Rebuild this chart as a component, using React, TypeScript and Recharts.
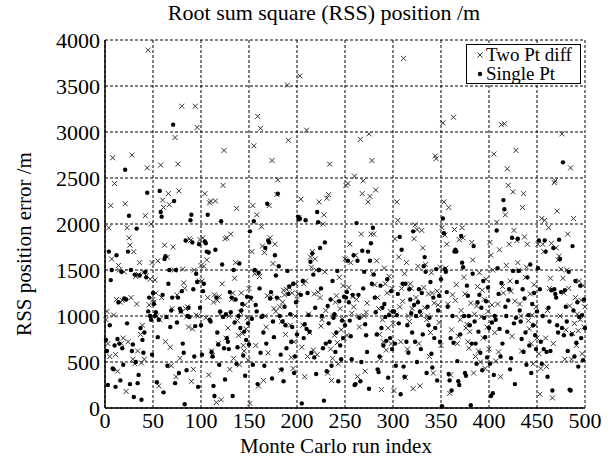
import { ScatterChart, Scatter, XAxis, YAxis, CartesianGrid, Legend, Label } from "recharts";

const FONT = '"Liberation Serif", "Times New Roman", serif';

const X_TICKS = [0, 50, 100, 150, 200, 250, 300, 350, 400, 450, 500];
const Y_TICKS = [0, 500, 1000, 1500, 2000, 2500, 3000, 3500, 4000];

// RSS position error per Monte Carlo run (runs 1..500)
const twoPtDiff = [
  960, 1050, 700, 1960, 560, 2200, 1620, 2720, 1010, 2440,
  580, 1180, 400, 1550, 1500, 1150, 700, 1170, 760, 1480,
  2220, 180, 1960, 720, 1850, 1770, 1200, 2750, 530, 1700,
  480, 1430, 1130, 620, 1450, 1580, 800, 490, 900, 1470,
  530, 2090, 1440, 2610, 3890, 1120, 1400, 2000, 1580, 1180,
  1150, 1390, 1250, 1000, 1600, 240, 960, 2640, 1200, 2260,
  2180, 1770, 720, 990, 1640, 2330, 2210, 660, 460, 1080,
  1750, 1500, 2940, 340, 1230, 2650, 2360, 540, 1050, 3280,
  1510, 1360, 1300, 1080, 990, 1100, 880, 1840, 1820, 290,
  860, 420, 1500, 3280, 1010, 3050, 1000, 1380, 1830, 1550,
  1380, 1850, 1540, 2330, 980, 1610, 1200, 360, 2230, 2250,
  620, 570, 1150, 1230, 2250, 60, 1170, 700, 1210, 1020,
  90, 1350, 2420, 2800, 1840, 760, 1850, 870, 1000, 420,
  1890, 1180, 1250, 540, 1410, 1580, 2170, 950, 790, 470,
  1040, 1250, 810, 680, 620, 1120, 860, 980, 520, 1300,
  50, 1180, 1700, 2200, 2850, 1460, 680, 2100, 3170, 240,
  1430, 3040, 1970, 1760, 300, 1690, 1000, 880, 1220, 600,
  2200, 1850, 1210, 2690, 1570, 1080, 1780, 1050, 2320, 2480,
  1190, 1100, 410, 940, 1150, 1280, 1230, 800, 1290, 3510,
  2910, 1310, 900, 550, 1250, 430, 720, 1000, 1350, 1180,
  1240, 2070, 3610, 2270, 660, 900, 1350, 340, 1380, 3020,
  560, 1020, 820, 1640, 1530, 1700, 630, 1240, 1620, 1500,
  580, 1260, 2240, 1200, 890, 960, 2000, 2100, 1480, 1060,
  2280, 380, 2320, 2650, 640, 300, 540, 1000, 790, 1150,
  1220, 710, 480, 1420, 1080, 850, 970, 1330, 760, 1620,
  2420, 790, 2440, 1310, 1780, 1580, 1030, 1210, 1100, 2520,
  1660, 1180, 340, 1000, 880, 2920, 1890, 2330, 2470, 1000,
  400, 1040, 1140, 2240, 2980, 2300, 1890, 2690, 1460, 1890,
  1340, 2370, 1600, 1200, 1080, 800, 540, 200, 960, 720,
  1520, 1350, 630, 1250, 870, 1430, 1050, 700, 1300, 920,
  190, 1840, 1010, 2240, 2040, 1640, 1100, 720, 1300, 1160,
  3800, 1460, 330, 1580, 640, 1000, 940, 1350, 1300, 1080,
  210, 1840, 1990, 1200, 1940, 1540, 700, 240, 1010, 1930,
  1740, 1310, 1090, 1560, 960, 1000, 1240, 560, 820, 1470,
  1250, 380, 1140, 2740, 2710, 1270, 1120, 930, 1530, 680,
  1960, 3100, 2240, 1880, 1520, 1780, 1130, 2180, 160, 360,
  850, 1230, 3160, 1940, 1170, 1340, 700, 780, 1830, 960,
  1060, 1960, 1850, 1420, 1240, 870, 910, 720, 650, 830,
  1140, 1800, 1610, 380, 1020, 560, 1110, 1320, 620, 1470,
  500, 990, 1280, 760, 1180, 430, 1400, 880, 1050, 640,
  1800, 1660, 1120, 1500, 2760, 820, 510, 2020, 1130, 610,
  1720, 340, 3080, 1320, 1250, 3090, 2100, 1550, 2600, 2420,
  1780, 1380, 1270, 780, 2350, 1930, 1160, 2800, 1820, 1580,
  1500, 1130, 1000, 620, 2180, 2330, 1860, 1420, 1530, 1780,
  950, 860, 1240, 700, 1010, 480, 1340, 900, 1100, 760,
  1780, 590, 150, 430, 2060, 1780, 1700, 2040, 760, 450,
  1060, 1960, 1300, 1410, 1790, 110, 700, 2450, 2470, 1740,
  2140, 1610, 1650, 1000, 1510, 2980, 1410, 1250, 530, 850,
  1500, 1890, 1300, 1110, 2610, 530, 810, 2060, 920, 1200,
  680, 1020, 840, 1380, 960, 1170, 590, 1330, 880, 1100,
];

const singlePt = [
  740, 620, 250, 1700, 900, 1390, 1500, 430, 420, 680,
  230, 1660, 750, 1150, 700, 300, 1480, 650, 470, 1190,
  2590, 1180, 920, 1700, 2090, 260, 1500, 620, 690, 120,
  1450, 500, 1950, 270, 360, 1440, 870, 90, 740, 600,
  820, 1480, 1420, 2340, 1050, 1200, 1000, 960, 580, 1250,
  1130, 1000, 1040, 280, 770, 960, 2360, 2130, 2080, 1230,
  170, 1620, 1650, 990, 460, 1350, 1500, 880, 1060, 1200,
  3080, 2250, 270, 1500, 930, 1200, 380, 1080, 1050, 1270,
  700, 600, 40, 1820, 410, 1000, 1090, 990, 2040, 2100,
  1800, 1290, 560, 890, 1460, 1370, 230, 1780, 1090, 900,
  580, 1270, 1350, 1810, 1790, 1700, 2100, 1690, 960, 940,
  610, 560, 240, 130, 1720, 1200, 820, 690, 470, 1050,
  2030, 1560, 990, 650, 310, 1020, 760, 720, 640, 1260,
  1040, 1200, 130, 1500, 930, 1180, 480, 660, 1000, 1570,
  870, 1060, 1130, 570, 830, 350, 740, 1210, 920, 690,
  1920, 1200, 970, 470, 2030, 1500, 1120, 1050, 260, 1470,
  1300, 600, 990, 1000, 820, 460, 1740, 700, 2220, 1820,
  1800, 1190, 1260, 320, 940, 770, 1660, 1440, 1200, 2330,
  1540, 1000, 580, 420, 940, 290, 1100, 900, 650, 1490,
  1240, 1320, 1020, 720, 880, 1350, 380, 560, 1150, 800,
  2080, 2050, 2060, 1230, 50, 1380, 760, 910, 2040, 860,
  1250, 1010, 830, 1590, 600, 1680, 1450, 550, 1090, 370,
  2130, 2020, 1500, 1740, 1300, 1000, 650, 80, 1800, 700,
  400, 1110, 920, 720, 1180, 460, 1380, 980, 1020, 610,
  820, 1490, 290, 1160, 680, 530, 950, 760, 1210, 900,
  1200, 1260, 1600, 1150, 950, 780, 530, 1230, 1660, 250,
  260, 2010, 1600, 1230, 980, 290, 500, 1710, 1300, 1480,
  910, 790, 610, 1700, 210, 1600, 1790, 1350, 1960, 1450,
  1200, 1040, 800, 420, 390, 560, 1330, 870, 1090, 680,
  1130, 990, 730, 1400, 330, 1010, 760, 1270, 640, 1050,
  1050, 700, 460, 1010, 1240, 920, 1860, 150, 1720, 1350,
  450, 340, 1350, 720, 900, 600, 1290, 1180, 1030, 820,
  1920, 1120, 720, 1000, 500, 1150, 1290, 1050, 640, 1250,
  800, 1540, 1640, 1480, 380, 1100, 900, 980, 1370, 590,
  440, 1200, 760, 870, 1510, 300, 1060, 1220, 720, 1400,
  20, 2060, 1900, 1510, 1480, 1260, 1100, 370, 300, 760,
  190, 1000, 710, 1700, 1720, 1700, 510, 290, 250, 800,
  1870, 1580, 1530, 1000, 380, 350, 1330, 1220, 1000, 900,
  30, 700, 1460, 1760, 940, 700, 480, 1150, 830, 1230,
  600, 1090, 410, 1380, 980, 770, 1160, 550, 1310, 870,
  480, 130, 930, 160, 360, 1000, 960, 1930, 1520, 1240,
  860, 560, 1360, 700, 2260, 2160, 1100, 1000, 830, 1170,
  1290, 420, 540, 1850, 1490, 920, 260, 980, 1370, 1840,
  1490, 1060, 940, 750, 1290, 610, 1190, 820, 470, 1420,
  1010, 680, 1560, 380, 1130, 900, 1250, 790, 640, 1050,
  1520, 1820, 1290, 720, 480, 1000, 640, 1820, 1700, 610,
  340, 1090, 940, 620, 1280, 190, 1740, 1290, 1240, 1200,
  900, 820, 1830, 1620, 1260, 870, 2670, 790, 1280, 1100,
  940, 620, 1480, 200, 190, 800, 1760, 1060, 560, 1380,
  710, 1150, 450, 990, 1330, 760, 1010, 520, 1180, 870,
];

const toPoints = (vals: number[]) => vals.map((v, i) => ({ run: i + 1, err: v }));

function Cross(props: any) {
  const { cx, cy } = props;
  if (cx == null || cy == null) return null;
  const s = 2.5;
  return (
    <path
      d={`M${cx - s},${cy - s}L${cx + s},${cy + s}M${cx + s},${cy - s}L${cx - s},${cy + s}`}
      stroke="#333"
      strokeWidth={1}
      fill="none"
    />
  );
}

function Dot(props: any) {
  const { cx, cy } = props;
  if (cx == null || cy == null) return null;
  return <circle cx={cx} cy={cy} r={2.2} fill="#000" />;
}

function LegendBox() {
  return (
    <div
      style={{
        width: 115, height: 40, border: "1px solid #000", background: "#fff",
        boxSizing: "border-box", fontFamily: FONT, fontSize: 19, color: "#000",
        lineHeight: "19px",
      }}
    >
      <div style={{ display: "flex", alignItems: "center", whiteSpace: "nowrap", height: 19 }}>
        <svg width={19} height={19}><Cross cx={13} cy={10} /></svg>
        <span>Two Pt diff</span>
      </div>
      <div style={{ display: "flex", alignItems: "center", whiteSpace: "nowrap", height: 19 }}>
        <svg width={19} height={19}><Dot cx={13} cy={10} /></svg>
        <span>Single Pt</span>
      </div>
    </div>
  );
}

const tickStyle = { fontSize: 22, fontFamily: FONT, fill: "#000" };

export default function App() {
  return (
    <div style={{ position: "absolute", left: 0, top: 0, width: 611, height: 457, background: "#fff" }}>
      <div
        style={{
          position: "absolute", left: 0, top: 0, width: 648, textAlign: "center",
          fontFamily: FONT, fontSize: 22, lineHeight: "26px", color: "#000", whiteSpace: "nowrap",
        }}
      >
        Root sum square (RSS) position /m
      </div>
      <ScatterChart width={611} height={457} margin={{ top: 40, right: 26, bottom: 0, left: 0 }}>
        <CartesianGrid stroke="#000" strokeDasharray="3 2" strokeWidth={1} />
        <XAxis
          type="number" dataKey="run" domain={[0, 500]} ticks={X_TICKS} interval={0}
          height={49} tickLine={false} tickSize={0} tickMargin={4}
          axisLine={{ stroke: "#000", strokeWidth: 1.5 }} tick={tickStyle}
        >
          <Label
            content={() => (
              <text x={336} y={453} textAnchor="middle" fontFamily={FONT} fontSize={21} fill="#000">
                Monte Carlo run index
              </text>
            )}
          />
        </XAxis>
        <YAxis
          type="number" dataKey="err" domain={[0, 4000]} ticks={Y_TICKS} interval={0}
          width={105} tickLine={false} tickSize={0} tickMargin={5}
          axisLine={{ stroke: "#000", strokeWidth: 1.5 }} tick={tickStyle}
        >
          <Label
            content={() => (
              <text
                x={31} y={244} textAnchor="middle" fontFamily={FONT} fontSize={21} fill="#000"
                transform="rotate(-90 31 244)"
              >
                RSS position error /m
              </text>
            )}
          />
        </YAxis>
        <Legend
          layout="vertical" align="center" verticalAlign="middle"
          wrapperStyle={{ position: "absolute", left: 466, top: 44, width: 115, height: 40 }}
          content={() => <LegendBox />}
        />
        <Scatter name="Two Pt diff" data={toPoints(twoPtDiff)} shape={<Cross />} isAnimationActive={false} />
        <Scatter name="Single Pt" data={toPoints(singlePt)} shape={<Dot />} isAnimationActive={false} />
      </ScatterChart>
    </div>
  );
}
